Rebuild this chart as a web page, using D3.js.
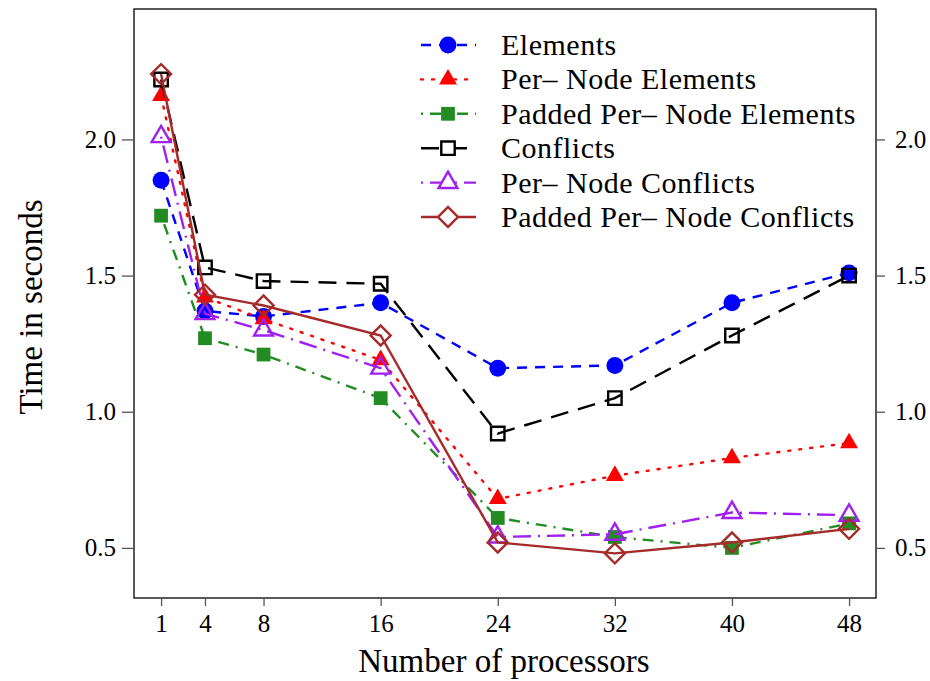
<!DOCTYPE html>
<html>
<head>
<meta charset="utf-8">
<script src="https://cdn.jsdelivr.net/npm/d3@7"></script>
<style>
  body { margin: 0; background: #fff; }
  svg text { font-family: "Liberation Serif", "Times New Roman", Times, "DejaVu Serif", serif !important; }
</style>
</head>
<body>
<svg id="chart" width="930" height="681"></svg>
<script>
// data
const processors = [1, 4, 8, 16, 24, 32, 40, 48];
const yTicks = [0.5, 1.0, 1.5, 2.0];

const elements          = [1.85, 1.37, 1.35, 1.40, 1.16, 1.17, 1.40, 1.51];
const perNodeElements   = [2.16, 1.42, 1.34, 1.19, 0.68, 0.765, 0.83, 0.885];
const paddedElements    = [1.72, 1.27, 1.21, 1.05, 0.61, 0.54, 0.50, 0.59];
const conflicts         = [2.22, 1.53, 1.48, 1.47, 0.92, 1.05, 1.28, 1.50];
const perNodeConflicts  = [2.01, 1.36, 1.30, 1.16, 0.54, 0.55, 0.63, 0.62];
const paddedConflicts   = [2.24, 1.43, 1.39, 1.28, 0.52, 0.48, 0.52, 0.57];

const seriesNames = ["Elements", "Per\u2013 Node Elements", "Padded Per\u2013 Node Elements",
                     "Conflicts", "Per\u2013 Node Conflicts", "Padded Per\u2013 Node Conflicts"];
const seriesValues = [elements, perNodeElements, paddedElements, conflicts, perNodeConflicts, paddedConflicts];

// styles per series
const styles = [
  {color: "#0000ff", dash: "10,8",          sym: "circle",   fill: true,  size: 225},
  {color: "#ff0000", dash: "2,9",           sym: "triangle", fill: true,  size: 140},
  {color: "#228b22", dash: "2,7,11,7",      sym: "square",   fill: true,  size: 190},
  {color: "#000000", dash: "18,10",         sym: "square",   fill: false, size: 180},
  {color: "#a020f0", dash: "2,7,18,7",      sym: "triangle", fill: false, size: 155},
  {color: "#a52a2a", dash: null,            sym: "diamond",  fill: false, size: 200}
];

const svg = d3.select("#chart");
const mLeft = 134, mRight = 876, mTop = 9, mBottom = 598;

const x = d3.scaleLinear().domain([-0.85, 49.84]).range([mLeft, mRight]);
const y = d3.scaleLinear().domain([0.316, 2.479]).range([mBottom, mTop]);

// frame
svg.append("rect")
  .attr("x", mLeft).attr("y", mTop)
  .attr("width", mRight - mLeft).attr("height", mBottom - mTop)
  .attr("fill", "none").attr("stroke", "#000").attr("stroke-width", 1.3);

// axes
const xAxis = svg.append("g")
  .attr("transform", `translate(0,${mBottom})`)
  .call(d3.axisBottom(x).tickValues(processors).tickSize(8).tickSizeOuter(0).tickPadding(8));
const yAxisL = svg.append("g")
  .attr("transform", `translate(${mLeft},0)`)
  .call(d3.axisLeft(y).tickValues(yTicks).tickSize(12).tickSizeOuter(0).tickPadding(6).tickFormat(d3.format(".1f")));
const yAxisR = svg.append("g")
  .attr("transform", `translate(${mRight},0)`)
  .call(d3.axisRight(y).tickValues(yTicks).tickSize(9).tickSizeOuter(0).tickPadding(10).tickFormat(d3.format(".1f")));

[xAxis, yAxisL, yAxisR].forEach(g => {
  g.attr("font-family", null);
  g.select(".domain").remove();
  g.selectAll(".tick line").attr("stroke", "#555").attr("stroke-width", 1.3);
  g.selectAll(".tick text")
    .attr("font-size", 25)
    .attr("fill", "#000");
});

// axis titles
svg.append("text")
  .attr("x", 504).attr("y", 672)
  .attr("text-anchor", "middle")
  .attr("font-size", 33)
  .text("Number of processors");

svg.append("text")
  .attr("transform", "translate(42,307) rotate(-90)")
  .attr("text-anchor", "middle")
  .attr("font-size", 33)
  .text("Time in seconds");

function symbolPath(s) {
  if (s.sym === "circle") return d3.symbol(d3.symbolCircle, s.size)();
  if (s.sym === "triangle") return d3.symbol(d3.symbolTriangle, s.size)();
  return d3.symbol(d3.symbolSquare, s.size)();
}

const line = d3.line()
  .x((d, i) => x(processors[i]))
  .y(d => y(d));

const plot = svg.append("g");

seriesValues.forEach((vals, k) => {
  const s = styles[k];
  const g = plot.append("g");
  g.append("path")
    .datum(vals)
    .attr("d", line)
    .attr("fill", "none")
    .attr("stroke", s.color)
    .attr("stroke-width", 2.4)
    .attr("stroke-dasharray", s.dash)
    .attr("stroke-linecap", s.dash === "2,9" ? "round" : "butt");

  g.selectAll("path.mark")
    .data(vals)
    .join("path")
    .attr("class", "mark")
    .attr("d", symbolPath(s))
    .attr("transform", (d, i) => `translate(${x(processors[i])},${y(d)})` + (s.sym === "diamond" ? " rotate(45)" : ""))
    .attr("fill", s.fill ? s.color : "none")
    .attr("stroke", s.fill ? "none" : s.color)
    .attr("stroke-width", 2.4);
});

// legend
const legend = svg.append("g");
const legY0 = 45, legStep = 34.4;
seriesNames.forEach((name, k) => {
  const s = styles[k];
  const ly = legY0 + k * legStep;
  legend.append("line")
    .attr("x1", 421).attr("x2", 476).attr("y1", ly).attr("y2", ly)
    .attr("stroke", s.color)
    .attr("stroke-width", 2.4)
    .attr("stroke-dasharray", s.dash)
    .attr("stroke-linecap", s.dash === "2,9" ? "round" : "butt");
  legend.append("path")
    .attr("d", symbolPath(s))
    .attr("transform", `translate(448,${ly})` + (s.sym === "diamond" ? " rotate(45)" : ""))
    .attr("fill", s.fill ? s.color : "#fff")
    .attr("stroke", s.fill ? "none" : s.color)
    .attr("stroke-width", 2.4);
  legend.append("text")
    .attr("x", 501).attr("y", ly)
    .attr("dy", "0.33em")
    .attr("font-size", 30)
    .attr("letter-spacing", 0.5)
    .text(name);
});
</script>
</body>
</html>
